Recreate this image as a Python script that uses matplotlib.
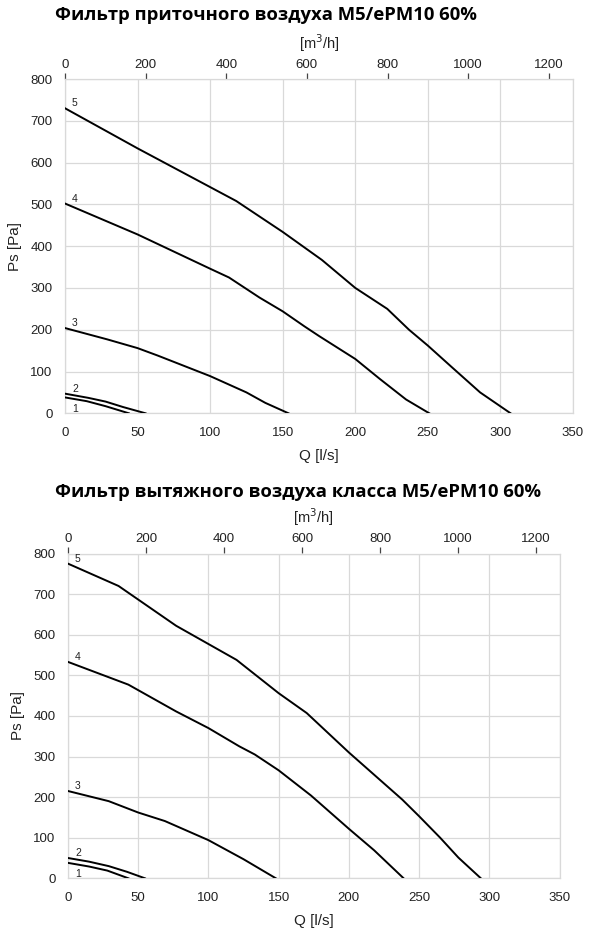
import matplotlib
matplotlib.use("Agg")
import matplotlib.pyplot as plt

# ---------------- data ----------------
# Supply filter (top chart): Q [l/s] -> Ps [Pa]
sup_q1 = [0, 15, 28, 44]
sup_p1 = [38, 29, 17, 0]
sup_q2 = [0, 16, 28, 40, 55.5]
sup_p2 = [47, 37, 28, 15, 0]
sup_q3 = [0, 29, 50, 64, 100, 125, 138, 154]
sup_p3 = [204, 177, 156, 138, 89, 50, 25, 0]
sup_q4 = [0, 50, 100, 113, 134, 150, 165, 175, 200, 217, 235, 251]
sup_p4 = [502, 428, 346, 325, 277, 244, 208, 185, 130, 82, 33, 0]
sup_q5 = [0, 50, 118, 150, 177, 200, 222, 237, 250, 266, 286, 307]
sup_p5 = [730, 634, 508, 434, 367, 300, 250, 200, 162, 112, 50, 0]

# Exhaust filter (bottom chart)
exh_q1 = [0, 15, 28, 43]
exh_p1 = [38, 29, 19, 0]
exh_q2 = [0, 15, 29, 42, 54.8]
exh_p2 = [50, 41, 30, 16, 0]
exh_q3 = [0, 29, 50, 69, 100, 125, 148]
exh_p3 = [215, 190, 162, 141, 94, 47, 0]
exh_q4 = [0, 43, 77, 100, 122, 133, 150, 173, 200, 218, 239]
exh_p4 = [533, 477, 411, 370, 325, 305, 266, 204, 122, 69, 0]
exh_q5 = [0, 36, 77, 120, 150, 170, 200, 238, 250, 265, 278, 294]
exh_p5 = [775, 720, 622, 538, 456, 407, 310, 194, 153, 100, 51, 0]

curve_labels = ["1", "2", "3", "4", "5"]
x_ticks = [0, 50, 100, 150, 200, 250, 300, 350]
y_ticks = [0, 100, 200, 300, 400, 500, 600, 700, 800]
top_ticks = [0, 200, 400, 600, 800, 1000, 1200]
LS_TO_M3H = 3.6

title_top = "Фильтр приточного воздуха M5/ePM10 60%"
title_bot = "Фильтр вытяжного воздуха класса M5/ePM10 60%"

plt.rcParams['font.family'] = ['Liberation Sans', 'DejaVu Sans']

W, H = 589, 935
fig = plt.figure(figsize=(W / 100, H / 100), dpi=100)

GRID = '#d9d9d9'
TXT = '#222222'


def make_panel(rect, title, title_y, series):
    left, top, right, bottom = rect
    ax = fig.add_axes([left / W, 1 - bottom / H, (right - left) / W, (bottom - top) / H])
    for i, (q, p) in enumerate(series):
        ax.plot(q, p, color='black', lw=1.4, solid_joinstyle='round', zorder=3)
        lbl = curve_labels[i]
        dy = -8 if i == 0 else 3.5
        ax.annotate(lbl, (q[0], p[0]), xytext=(5, dy), textcoords='offset points',
                    fontsize=7.5, color=TXT, va='center')
    ax.set_xlim(0, 350)
    ax.set_ylim(0, 800)
    ax.set_xticks(x_ticks)
    ax.set_yticks(y_ticks)
    ax.grid(True, color=GRID, lw=0.9)
    for s in ax.spines.values():
        s.set_color(GRID)
        s.set_linewidth(0.9)
    ax.tick_params(axis='both', length=0, labelsize=9.5, labelcolor=TXT)
    ax.tick_params(axis='x', pad=10)
    ax.tick_params(axis='y', pad=9)
    ax.set_xlabel("Q [l/s]", fontsize=11, color=TXT, labelpad=7)
    ax.set_ylabel("Ps [Pa]", fontsize=11, color=TXT, labelpad=6)
    sec = ax.secondary_xaxis('top', functions=(lambda q: q * LS_TO_M3H, lambda m: m / LS_TO_M3H))
    sec.set_xticks(top_ticks)
    sec.tick_params(axis='x', length=4, width=0.9, color='#444444', labelsize=9.5,
                    labelcolor=TXT, pad=2)
    sec.spines['top'].set_visible(False)
    sec.set_xlabel("[m$^3$/h]", fontsize=10.5, color=TXT, labelpad=7)
    fig.text(55 / W, 1 - title_y / H, title, fontsize=13.3, fontweight='bold',
             family=['Open Sans', 'DejaVu Sans'], ha='left', va='center', color='black')
    return ax


make_panel((65, 79, 573, 413.3), title_top, 15,
           [(sup_q1, sup_p1), (sup_q2, sup_p2), (sup_q3, sup_p3), (sup_q4, sup_p4), (sup_q5, sup_p5)])
make_panel((68, 553.5, 559.5, 878.3), title_bot, 492,
           [(exh_q1, exh_p1), (exh_q2, exh_p2), (exh_q3, exh_p3), (exh_q4, exh_p4), (exh_q5, exh_p5)])

fig.savefig("out.png", dpi=100, facecolor='white')
